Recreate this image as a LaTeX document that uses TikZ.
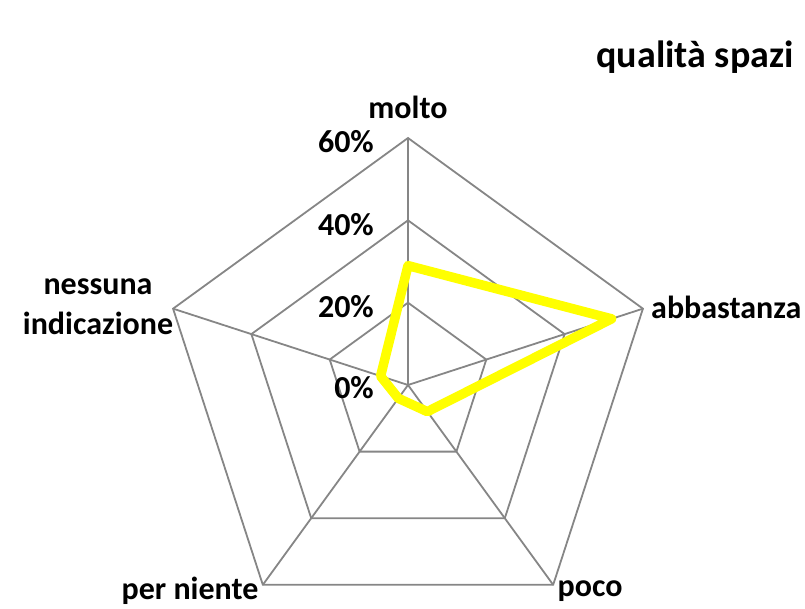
\documentclass[tikz,border=0pt]{standalone}
\usepackage{fontspec}
\setmainfont{Carlito}
\usetikzlibrary{calc}
\begin{document}
\begin{tikzpicture}[x=1pt,y=1pt,
  grid/.style={draw={rgb,255:red,134;green,134;blue,134}, line width=1.8pt},
  series/.style={draw={rgb,255:red,255;green,255;blue,0}, line width=9.5pt, line join=round},
  lbl/.style={font=\fontsize{32}{40}\selectfont\bfseries, inner sep=0pt, align=center},
  ttl/.style={font=\fontsize{38}{44}\selectfont\bfseries, inner sep=0pt},
]
\useasboundingbox (0,0) rectangle (805,608);
\coordinate (C) at (408,223);
% grid
\foreach \r in {82.33,164.67,247} {
  \draw[grid] ($(C)+(90:\r)$) -- ($(C)+(18:\r)$) -- ($(C)+(-54:\r)$) -- ($(C)+(-126:\r)$) -- ($(C)+(162:\r)$) -- cycle;
}
\foreach \a/\n in {90/m,18/a,-54/p,-126/n,162/i} {
  \coordinate (v\n) at ($(C)+(\a:247)$);
  \draw[grid] (C) -- (v\n);
}
% data (percent * 247/60)
\coordinate (dm) at ($(C)+(90:{29*247/60})$);
\coordinate (da) at ($(C)+(18:{52*247/60})$);
\coordinate (dp) at ($(C)+(-54:{8*247/60})$);
\coordinate (dn) at ($(C)+(-126:{4*247/60})$);
\coordinate (di) at ($(C)+(162:{7*247/60})$);
\draw[series] (dm) -- (da) -- (dp) -- (dn) -- (di) -- cycle;
% labels
\node[ttl] (title) at (695,551) {qualità spazi};
\node[lbl] (lm) at (408,501) {molto};
\node[lbl, anchor=west] (la) at (651,301) {abbastanza};
\node[lbl] (lp) at (590,17) {poco};
\node[lbl] (ln) at (190,17) {per niente};
\node[lbl] (li) at (98,301) {nessuna\\indicazione};
\node[lbl, anchor=east] (t60) at (374,466) {60\%};
\node[lbl, anchor=east] (t40) at (374,383) {40\%};
\node[lbl, anchor=east] (t20) at (374,301) {20\%};
\node[lbl, anchor=east] (t0) at (374,220) {0\%};
\end{tikzpicture}
\end{document}
